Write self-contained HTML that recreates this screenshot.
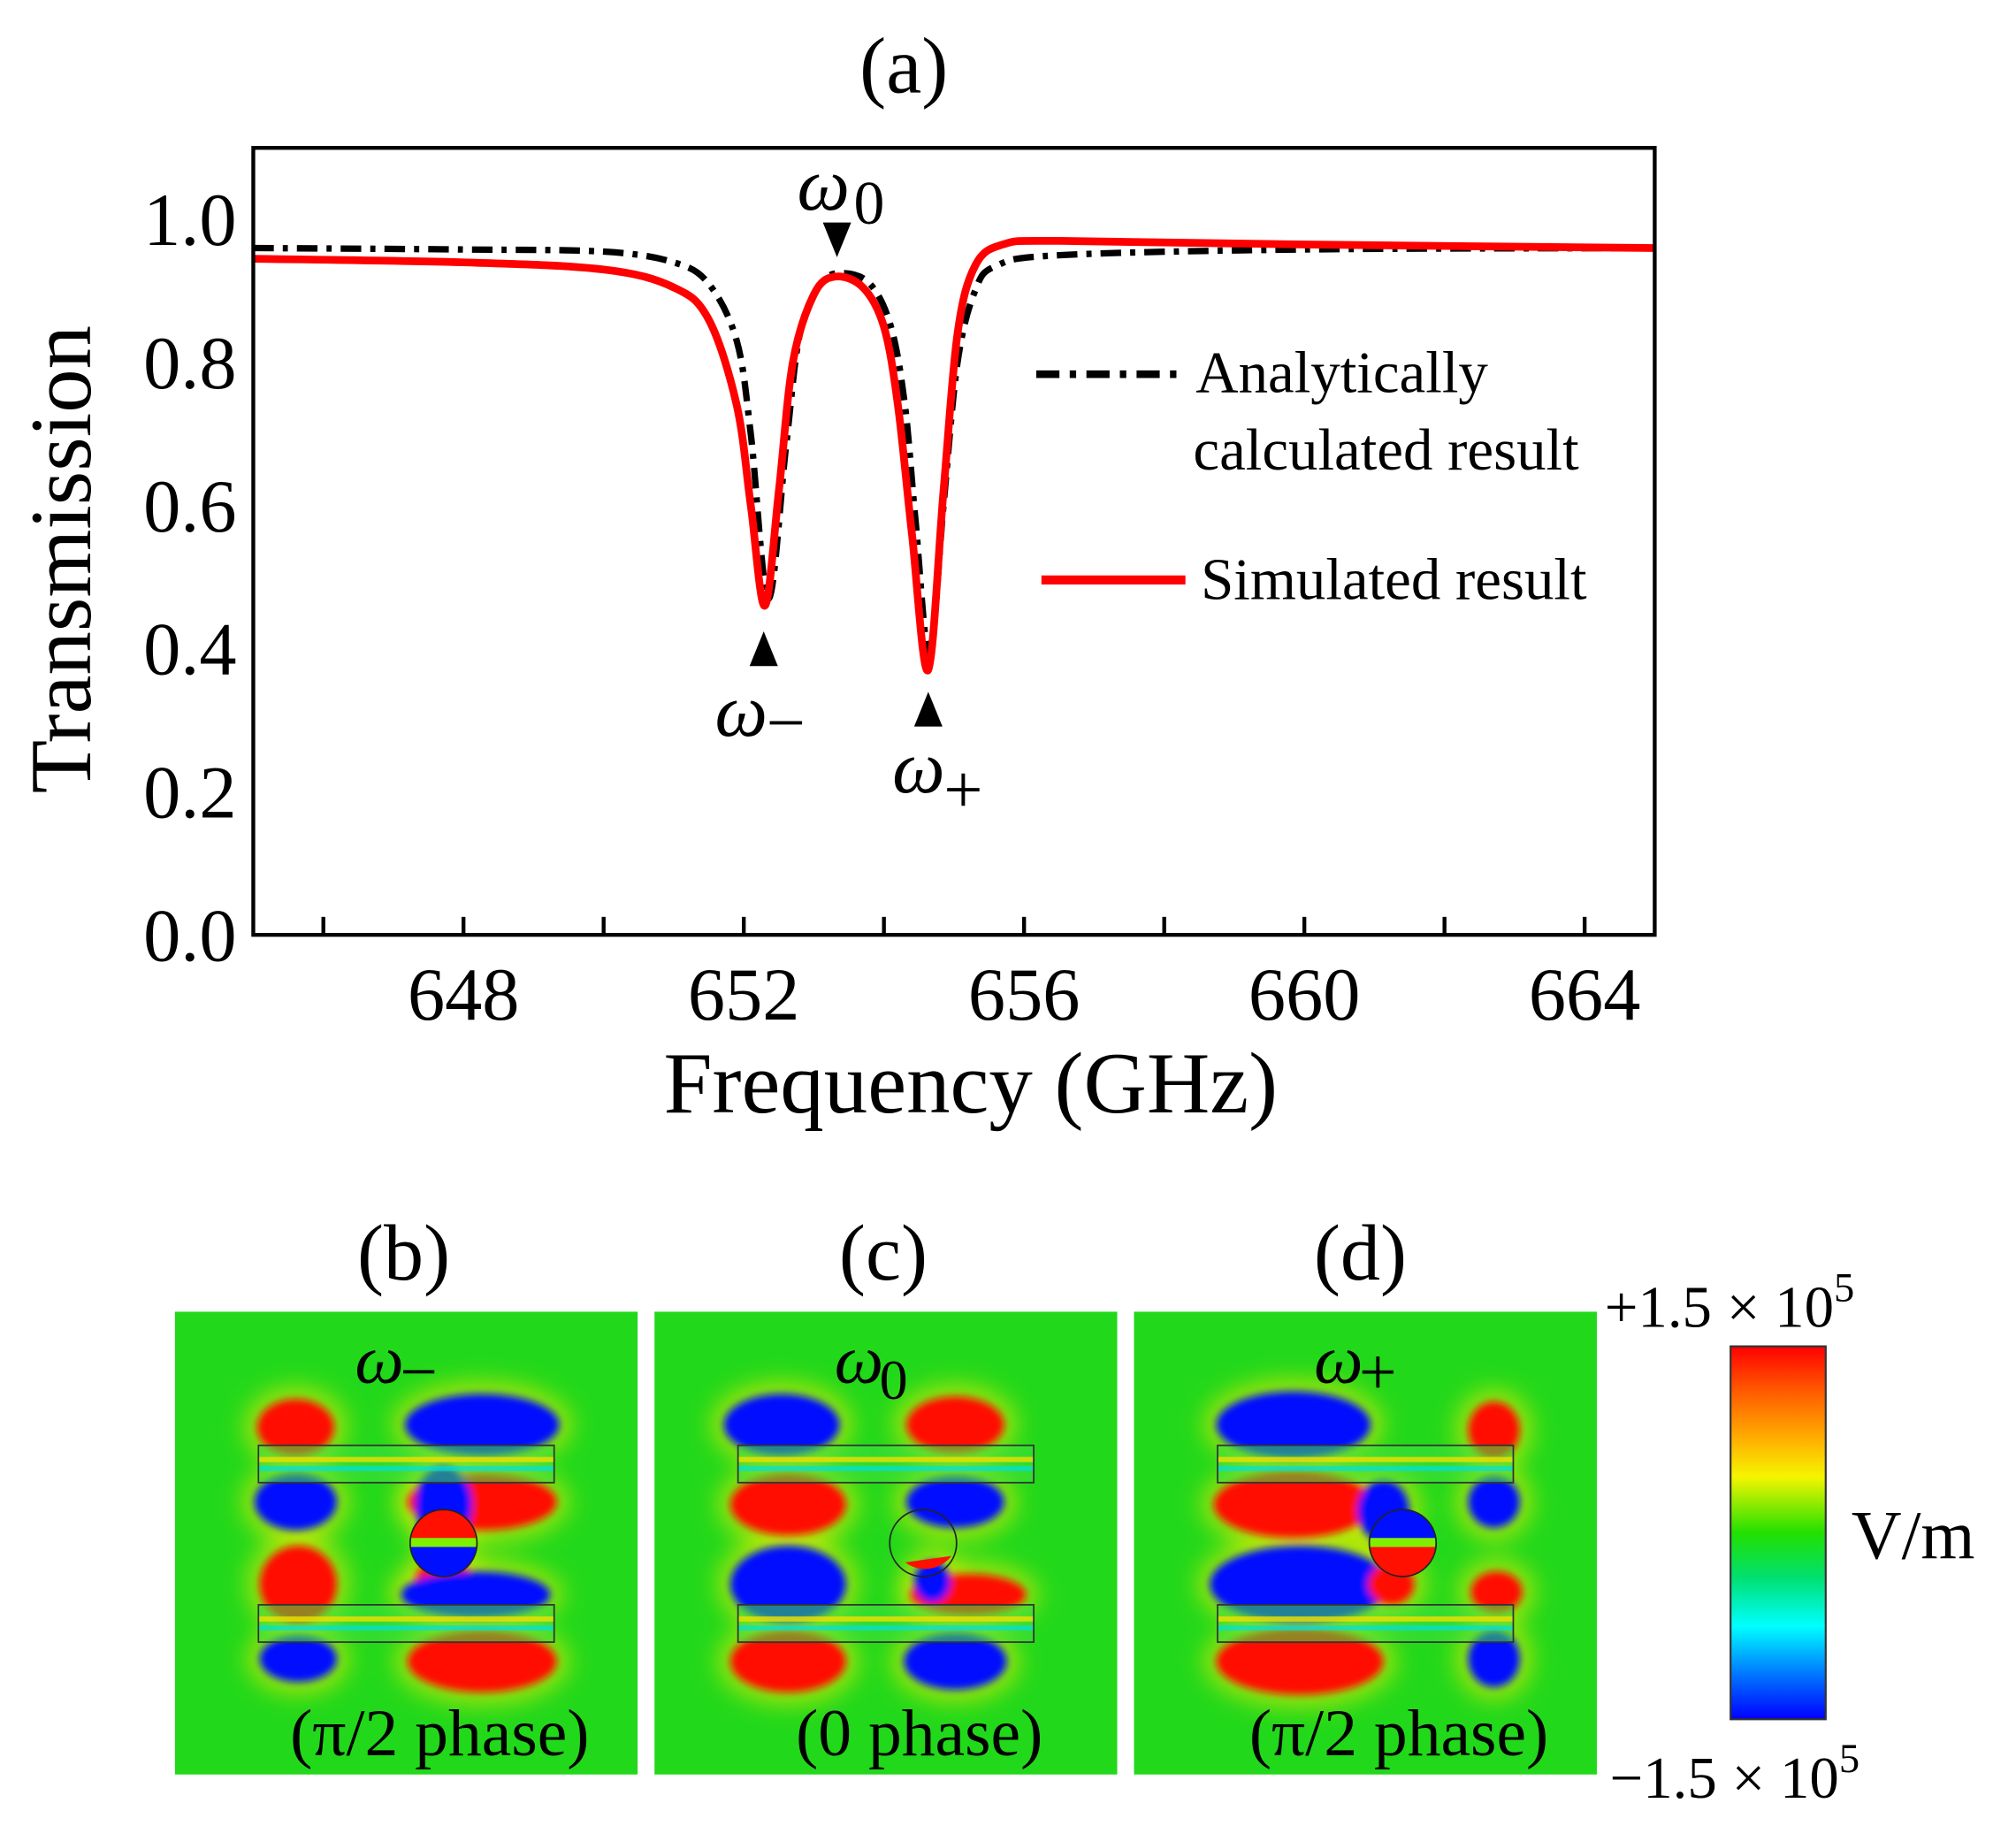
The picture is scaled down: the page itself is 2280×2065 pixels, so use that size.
<!DOCTYPE html>
<html><head><meta charset="utf-8"><style>
html,body{margin:0;padding:0;background:#fff;}
svg{display:block;}
text{font-family:"Liberation Serif",serif;fill:#000;}
</style></head><body>
<svg id="fig" width="2280" height="2065" viewBox="0 0 1568 1420" preserveAspectRatio="none" xmlns="http://www.w3.org/2000/svg">
<defs>
<filter id="blur" x="-20%" y="-20%" width="140%" height="140%"><feGaussianBlur stdDeviation="9"/></filter>
<filter id="blur2" x="-20%" y="-20%" width="140%" height="140%"><feGaussianBlur stdDeviation="3"/></filter>
<linearGradient id="cbar" x1="0" y1="0" x2="0" y2="1">
<stop offset="0" stop-color="#ff0000"/><stop offset="0.12" stop-color="#ff5a00"/><stop offset="0.25" stop-color="#ffb000"/><stop offset="0.35" stop-color="#f5f500"/><stop offset="0.5" stop-color="#22e000"/><stop offset="0.62" stop-color="#00e070"/><stop offset="0.75" stop-color="#00ffff"/><stop offset="0.87" stop-color="#0080ff"/><stop offset="1" stop-color="#0000ff"/>
</linearGradient>
<clipPath id="cpb"><rect x="136" y="1020" width="360" height="360"/></clipPath>
<clipPath id="cpc"><rect x="509" y="1020" width="360" height="360"/></clipPath>
<clipPath id="cpd"><rect x="882" y="1020" width="360" height="360"/></clipPath>
</defs>
<text x="703" y="72" font-size="62" text-anchor="middle">(a)</text>
<g id="plot"></g>
<text x="755" y="865" font-size="68" text-anchor="middle">Frequency (GHz)</text>
<text transform="translate(70,435) rotate(-90)" font-size="68" text-anchor="middle">Transmission</text>
<g>
<line x1="806" y1="291" x2="918" y2="291" stroke="#000" stroke-width="6" stroke-dasharray="18,8,5,8"/>
<text x="930" y="305" font-size="46">Analytically</text>
<text x="928" y="365" font-size="46">calculated result</text>
<line x1="810" y1="451" x2="922" y2="451" stroke="#f00" stroke-width="7"/>
<text x="934" y="466" font-size="46">Simulated result</text>
</g>
<g>
<polygon points="640,173 662,173 651,200" fill="#000"/>
<text x="620" y="163" font-size="58" font-style="italic">ω</text><text x="664" y="174" font-size="48">0</text>
<polygon points="583,518 605,518 594,491" fill="#000"/>
<text x="556" y="572" font-size="58" font-style="italic">ω</text><text x="596" y="580" font-size="54">−</text>
<polygon points="711,565 733,565 722,538" fill="#000"/>
<text x="694" y="616" font-size="58" font-style="italic">ω</text><text x="734" y="632" font-size="54">+</text>
</g>
<text x="314" y="995" font-size="62" text-anchor="middle">(b)</text>
<text x="687" y="995" font-size="62" text-anchor="middle">(c)</text>
<text x="1058" y="995" font-size="62" text-anchor="middle">(d)</text>
<g id="maps"></g>
<g>
<rect x="1346" y="1047" width="74" height="290" fill="url(#cbar)" stroke="#333" stroke-width="1.5"/>
<text x="1248" y="1032" font-size="46">+1.5 × 10<tspan dy="-20" font-size="32">5</tspan></text>
<text x="1252" y="1398" font-size="46">−1.5 × 10<tspan dy="-20" font-size="32">5</tspan></text>
<text x="1440" y="1212" font-size="54">V/m</text>
</g>
</svg>
<script>
const xTicks=[648,652,656,660,664];
const yTicks=[0.0,0.2,0.4,0.6,0.8,1.0];
const freqSim=[645,648,650,651,651.5,651.9,652.1,652.3,652.5,652.7,653,653.3,653.7,654,654.2,654.4,654.63,654.85,655.05,655.3,655.7,656.5,660,665];
const transSim=[0.945,0.94,0.93,0.905,0.86,0.74,0.6,0.46,0.62,0.8,0.895,0.92,0.905,0.85,0.74,0.56,0.37,0.62,0.84,0.935,0.965,0.97,0.965,0.96];
const freqAna=[645,648,650,651,651.5,651.9,652.1,652.35,652.6,652.8,653.1,653.4,653.8,654.1,654.3,654.45,654.65,654.85,655.05,655.3,655.6,656.5,660,665];
const transAna=[0.96,0.958,0.955,0.94,0.91,0.83,0.7,0.47,0.68,0.84,0.91,0.925,0.91,0.85,0.74,0.58,0.39,0.6,0.8,0.9,0.935,0.95,0.958,0.96];
const NS='http://www.w3.org/2000/svg';
const X0=197,X1=1287,Y0=727,Y1=115;
const xs=v=>X0+(v-645)/(665-645)*(X1-X0);
const ys=v=>Y0-(v-0)/(1.1-0)*(Y0-Y1);
const plot=document.getElementById('plot');
function mk(tag,attrs,parent){const e=document.createElementNS(NS,tag);for(const k in attrs)e.setAttribute(k,attrs[k]);(parent||plot).appendChild(e);return e;}
function smooth(fx,fy){
  const p=fx.map((f,i)=>[xs(f),ys(fy[i])]);let d='M'+p[0][0]+','+p[0][1];
  for(let i=0;i<p.length-1;i++){const a=p[i-1]||p[i],b=p[i],c=p[i+1],e=p[i+2]||c;
    d+='C'+(b[0]+(c[0]-a[0])/6)+','+(b[1]+(c[1]-a[1])/6)+' '+(c[0]-(e[0]-b[0])/6)+','+(c[1]-(e[1]-b[1])/6)+' '+c[0]+','+c[1];}
  return d;}
const ana=mk('path',{d:smooth(freqAna,transAna),fill:'none',stroke:'#000','stroke-width':5,'stroke-dasharray':'16,7,4,7'});


const sim=mk('path',{d:smooth(freqSim,transSim),fill:'none',stroke:'#f00','stroke-width':6});


const frame=mk('rect',{x:X0,y:Y1,width:X1-X0,height:Y0-Y1,fill:'none',stroke:'#000','stroke-width':3});


xTicks.forEach(t=>{
  const l=mk('line',{x1:xs(t),x2:xs(t),y1:Y0,y2:Y0-14,stroke:'#000','stroke-width':3});
  
  
  const m=mk('line',{x1:xs(t-2),x2:xs(t-2),y1:Y0,y2:Y0-14,stroke:'#000','stroke-width':3});
  
  
  const tx=mk('text',{x:xs(t),y:Y0+66,'font-size':58,'text-anchor':'middle'});tx.textContent=t;
  
  
});
yTicks.forEach(t=>{
  const tx=mk('text',{x:184,y:ys(t)+20,'font-size':58,'text-anchor':'end'});tx.textContent=t.toFixed(1);
  
  
});
const maps=document.getElementById('maps');
const R='#ff1000',B='#0010ff';
const panels=[
 {id:'b',ox:0,name:'field-map-omega-minus',sym:'−',phase:'(π/2 phase)',
  blobs:[[230,1110,30,22,R],[375,1108,60,24,B],[230,1168,32,22,B],[375,1168,58,22,R],[345,1170,22,30,B],[345,1230,22,18,R],[232,1232,30,30,R],[370,1240,58,18,B],[232,1290,30,18,B],[375,1292,58,24,R]],
  circ:[R,B]},
 {id:'c',ox:373,name:'field-map-omega-0',sym:'0',phase:'(0 phase)',
  blobs:[[235,1108,45,24,B],[370,1108,38,22,R],[240,1170,45,24,R],[370,1168,38,20,B],[240,1232,45,30,B],[380,1240,45,16,R],[240,1292,45,24,R],[370,1292,40,22,B],[352,1230,14,16,B]],
  circ:null},
 {id:'d',ox:746,name:'field-map-omega-plus',sym:'+',phase:'(π/2 phase)',
  blobs:[[260,1108,60,26,B],[416,1112,20,22,R],[260,1170,62,26,R],[416,1168,20,20,B],[330,1175,20,24,B],[265,1232,70,30,B],[418,1238,20,16,R],[265,1292,65,26,R],[416,1290,20,22,B],[336,1232,18,16,R]],
  circ:[B,R]}
];
panels.forEach(p=>{
  const g=mk('g',{'clip-path':'url(#cp'+p.id+')'},maps);
  
  
  mk('rect',{x:136+p.ox,y:1020,width:360,height:360,fill:'#22d81a'},g);
  const bg=mk('g',{filter:'url(#blur)'},g);
  p.blobs.forEach(b=>{
    mk('ellipse',{cx:b[0]+p.ox,cy:b[1],rx:b[2]+10,ry:b[3]+10,fill:'#ffee00',opacity:0.55},bg);
  });
  const bg2=mk('g',{filter:'url(#blur2)'},g);
  p.blobs.forEach(b=>{mk('ellipse',{cx:b[0]+p.ox,cy:b[1],rx:b[2],ry:b[3],fill:b[4]},bg2);});
  [1124,1248].forEach(y=>{
    mk('rect',{x:201+p.ox,y:y,width:230,height:29,fill:'#40e040',opacity:0.55},g);
    mk('rect',{x:201+p.ox,y:y+9,width:230,height:4,fill:'#f0e000',opacity:0.8},g);
    mk('rect',{x:201+p.ox,y:y+16,width:230,height:4,fill:'#00e0e0',opacity:0.7},g);
    mk('rect',{x:201+p.ox,y:y,width:230,height:29,fill:'none',stroke:'#333','stroke-width':1.2},g);
  });
  if(p.circ){
    mk('path',{d:`M${319+p.ox},1200 A26,26 0 0 1 ${371+p.ox},1200 Z`,fill:p.circ[0]},g);
    mk('path',{d:`M${319+p.ox},1200 A26,26 0 0 0 ${371+p.ox},1200 Z`,fill:p.circ[1]},g);
    mk('rect',{x:319+p.ox,y:1196,width:52,height:7,fill:'#80f000'},g);
  } else {
    mk('path',{d:`M704,1215 A26,26 0 0 0 740,1210 Z`,fill:R},g);
  }
  mk('circle',{cx:345+p.ox,cy:1200,r:26,fill:'none',stroke:'#222','stroke-width':1.2},g);
  const t=mk('text',{x:276+p.ox,y:1075,'font-size':54,'font-style':'italic'},g);t.textContent='ω';
  const s=mk('text',{x:311+p.ox,y:p.sym==='0'?1088:1084,'font-size':p.sym==='0'?44:52},g);s.textContent=p.sym;
  const ph=mk('text',{x:342+p.ox,y:1365,'font-size':52,'text-anchor':'middle'},g);ph.textContent=p.phase;
  
  
});
</script>
</body></html>
